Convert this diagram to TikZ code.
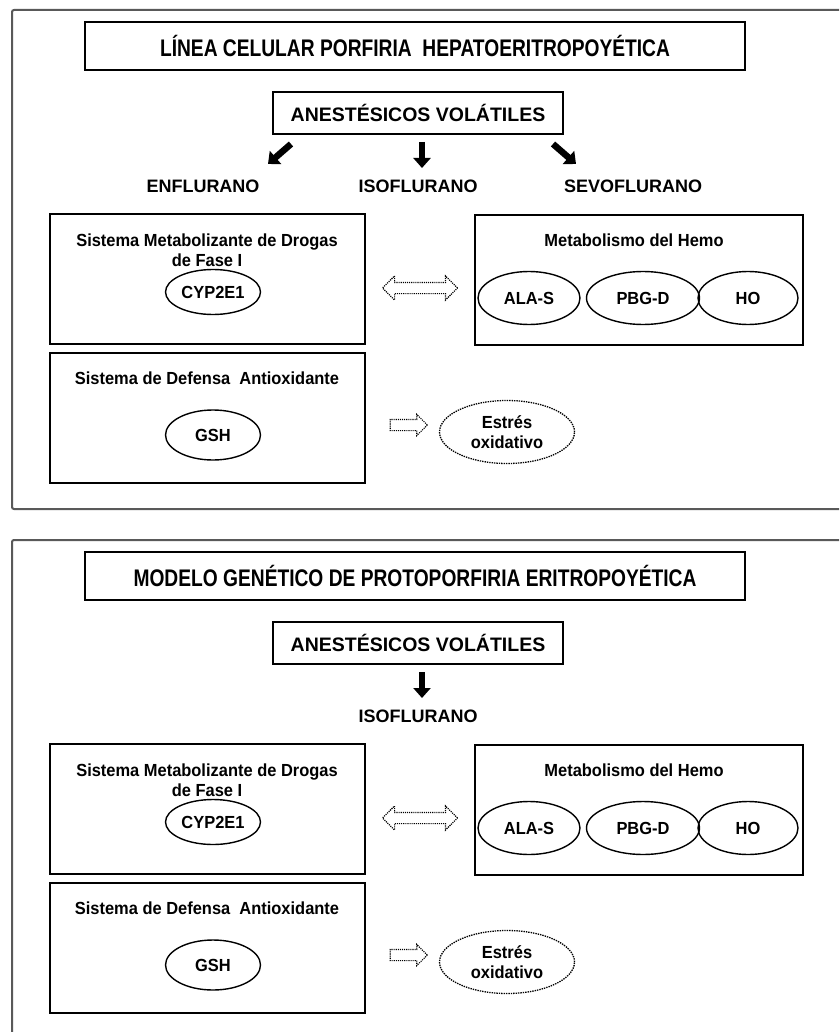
\documentclass[tikz,border=0pt]{standalone}
\usepackage{fontspec}
\setmainfont{Liberation Sans}
\newfontfamily\condfont[FakeStretch=0.80]{Liberation Sans}
\newfontfamily\tightfont[FakeStretch=0.94]{Liberation Sans}
\usetikzlibrary{shapes.geometric,shapes.arrows,arrows.meta}
\begin{document}
\begin{tikzpicture}[x=1pt,y=-1pt,
  frame/.style={draw=black!65,line width=2pt,rounded corners=2pt},
  titlebox/.style={draw,line width=2.6pt,minimum width=660pt,minimum height=48pt,inner sep=0pt,
    font=\condfont\bfseries\fontsize{24}{26}\selectfont},
  anestbox/.style={draw,line width=2.6pt,minimum width=290pt,minimum height=42pt,inner sep=0pt,
    font=\bfseries\fontsize{19.5}{22}\selectfont},
  drug/.style={font=\bfseries\fontsize{18}{20}\selectfont,inner sep=0pt},
  panelbox/.style={draw,line width=2.4pt},
  small/.style={font=\tightfont\bfseries\fontsize{17.5}{20}\selectfont,inner sep=0pt,align=center},
  oval/.style={ellipse,draw,line width=1.4pt,inner sep=0pt,font=\tightfont\bfseries\fontsize{17.5}{20}\selectfont},
  blockarrow/.style={line width=6.5pt,-{Triangle[width=17pt,length=10pt]}},
  hollowdbl/.style={double arrow,draw,densely dotted,line width=1.1pt,inner sep=5pt,
    double arrow head extend=6.5pt,minimum height=75pt,minimum width=23pt},
  hollowsgl/.style={single arrow,draw,densely dotted,line width=1.1pt,inner sep=5pt,
    single arrow head extend=5pt,minimum height=37pt,minimum width=20pt}
]
\useasboundingbox (0,0) rectangle (839,1032);
\clip (0,0) rectangle (839,1032);
\fill[white] (0,0) rectangle (839,1032);

% ---------- top panel ----------
\draw[frame] (860,10) -- (12,10) -- (12,509) -- (860,509);
\node[titlebox] (t1) at (415,46) {LÍNEA CELULAR PORFIRIA\ \ HEPATOERITROPOYÉTICA};
\node[anestbox] (a1) at (418,113) {ANESTÉSICOS VOLÁTILES};
\node[drug] (enf1) at (203,186) {ENFLURANO};
\node[drug] (iso1) at (418,186) {ISOFLURANO};
\node[drug] (sev1) at (633,186) {SEVOFLURANO};
\coordinate (la1s) at (291,144); \coordinate (la1e) at (268,164);
\coordinate (ma1s) at (422,142); \coordinate (ma1e) at (422,168);
\coordinate (ra1s) at (553,144); \coordinate (ra1e) at (576,164);
\draw[blockarrow] (la1s) -- (la1e);
\draw[blockarrow] (ma1s) -- (ma1e);
\draw[blockarrow] (ra1s) -- (ra1e);

\draw[panelbox] (50,214) rectangle (365,344);
\node[small] (sm1) at (207,250) {Sistema Metabolizante de Drogas\\de Fase I};
\node[oval,minimum width=95pt,minimum height=45pt] (cyp1) at (213,292) {CYP2E1};

\draw[panelbox] (475,215) rectangle (803,345);
\node[small] (mh1) at (634,240) {Metabolismo del Hemo};
\node[oval,minimum width=102pt,minimum height=53pt] (ala1) at (529,298) {ALA-S};
\node[oval,minimum width=113pt,minimum height=53pt] (pbg1) at (643,298) {PBG-D};
\node[oval,minimum width=100pt,minimum height=53pt] (ho1) at (748,298) {HO};

\node[hollowdbl] (dbl1) at (420,288) {};

\draw[panelbox] (50,353) rectangle (365,483);
\node[small] (sd1) at (207,378) {Sistema de Defensa\ \ Antioxidante};
\node[oval,minimum width=95pt,minimum height=50pt] (gsh1) at (213,435) {GSH};
\node[hollowsgl] (sgl1) at (406,425) {};
\node[oval,densely dotted,line width=1.3pt,minimum width=135pt,minimum height=63pt,align=center] (est1) at (507,432) {Estrés\\oxidativo};

% ---------- bottom panel ----------
\begin{scope}[yshift=-530pt]
\draw[frame] (860,10) -- (12,10) -- (12,540);
\node[titlebox] (t2) at (415,46) {MODELO GENÉTICO DE PROTOPORFIRIA ERITROPOYÉTICA};
\node[anestbox] (a2) at (418,113) {ANESTÉSICOS VOLÁTILES};
\node[drug] (iso2) at (418,186) {ISOFLURANO};
\coordinate (ma2s) at (422,142); \coordinate (ma2e) at (422,168);
\draw[blockarrow] (ma2s) -- (ma2e);

\draw[panelbox] (50,214) rectangle (365,344);
\node[small] (sm2) at (207,250) {Sistema Metabolizante de Drogas\\de Fase I};
\node[oval,minimum width=95pt,minimum height=45pt] (cyp2) at (213,292) {CYP2E1};

\draw[panelbox] (475,215) rectangle (803,345);
\node[small] (mh2) at (634,240) {Metabolismo del Hemo};
\node[oval,minimum width=102pt,minimum height=53pt] (ala2) at (529,298) {ALA-S};
\node[oval,minimum width=113pt,minimum height=53pt] (pbg2) at (643,298) {PBG-D};
\node[oval,minimum width=100pt,minimum height=53pt] (ho2) at (748,298) {HO};

\node[hollowdbl] (dbl2) at (420,288) {};

\draw[panelbox] (50,353) rectangle (365,483);
\node[small] (sd2) at (207,378) {Sistema de Defensa\ \ Antioxidante};
\node[oval,minimum width=95pt,minimum height=50pt] (gsh2) at (213,435) {GSH};
\node[hollowsgl] (sgl2) at (406,425) {};
\node[oval,densely dotted,line width=1.3pt,minimum width=135pt,minimum height=63pt,align=center] (est2) at (507,432) {Estrés\\oxidativo};
\end{scope}
\end{tikzpicture}
\end{document}
